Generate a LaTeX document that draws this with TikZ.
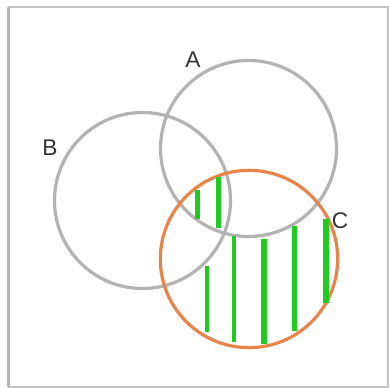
\documentclass[tikz,border=0pt]{standalone}
\usepackage{fontspec}
\setmainfont{Liberation Sans}
\usepackage{xcolor}
\usetikzlibrary{positioning}
\definecolor{ringgray}{HTML}{B3B3B3}
\definecolor{framegray}{HTML}{C4C4C4}
\definecolor{ringorange}{HTML}{E8844A}
\definecolor{hatchgreen}{HTML}{1ECB1E}
\definecolor{labelgray}{HTML}{333333}

\begin{document}
\begin{tikzpicture}[
  x=0.75pt, y=-0.75pt,
  setring/.style={circle, draw=ringgray, line width=2.4pt,
                  minimum size=132pt, inner sep=0pt},
  cring/.style={circle, draw=ringorange, line width=2.4pt,
                minimum size=133pt, inner sep=0pt},
  lbl/.style={font=\fontsize{17}{20}\selectfont, text=labelgray, inner sep=0pt},
  hatch/.style={draw=hatchgreen, line width=#1}
]
\useasboundingbox (0,0) rectangle (389,388);
\draw[framegray, line width=1.5pt] (8.5,7) rectangle (388,387);
\draw[framegray!80!gray, line width=2.3pt] (8.5,7) -- (8.5,387);

\node[setring] (setB) at (142.5,200.5) {};
\node[setring] (setA) at (248.5,148.5) {};
\node[cring]   (setC) at (249,259) {};

\node[lbl] (labA) at (193,60) {A};
\node[lbl] (labB) at (50,148) {B};
\node[lbl] (labC) at (340,220.5) {C};

% green hatching of C
\foreach \hx/\htop/\hbot/\hw in {197.7/190/219/3.8pt, 218.3/177/228/3.8pt,
    206.7/266/332/3pt, 234.3/236/342/3.2pt, 264/239/344/3.8pt,
    294.3/226/331/3.8pt, 326/219/303/3.8pt}
  \draw[hatch=\hw] (\hx,\htop) -- (\hx,\hbot);
\end{tikzpicture}
\end{document}
